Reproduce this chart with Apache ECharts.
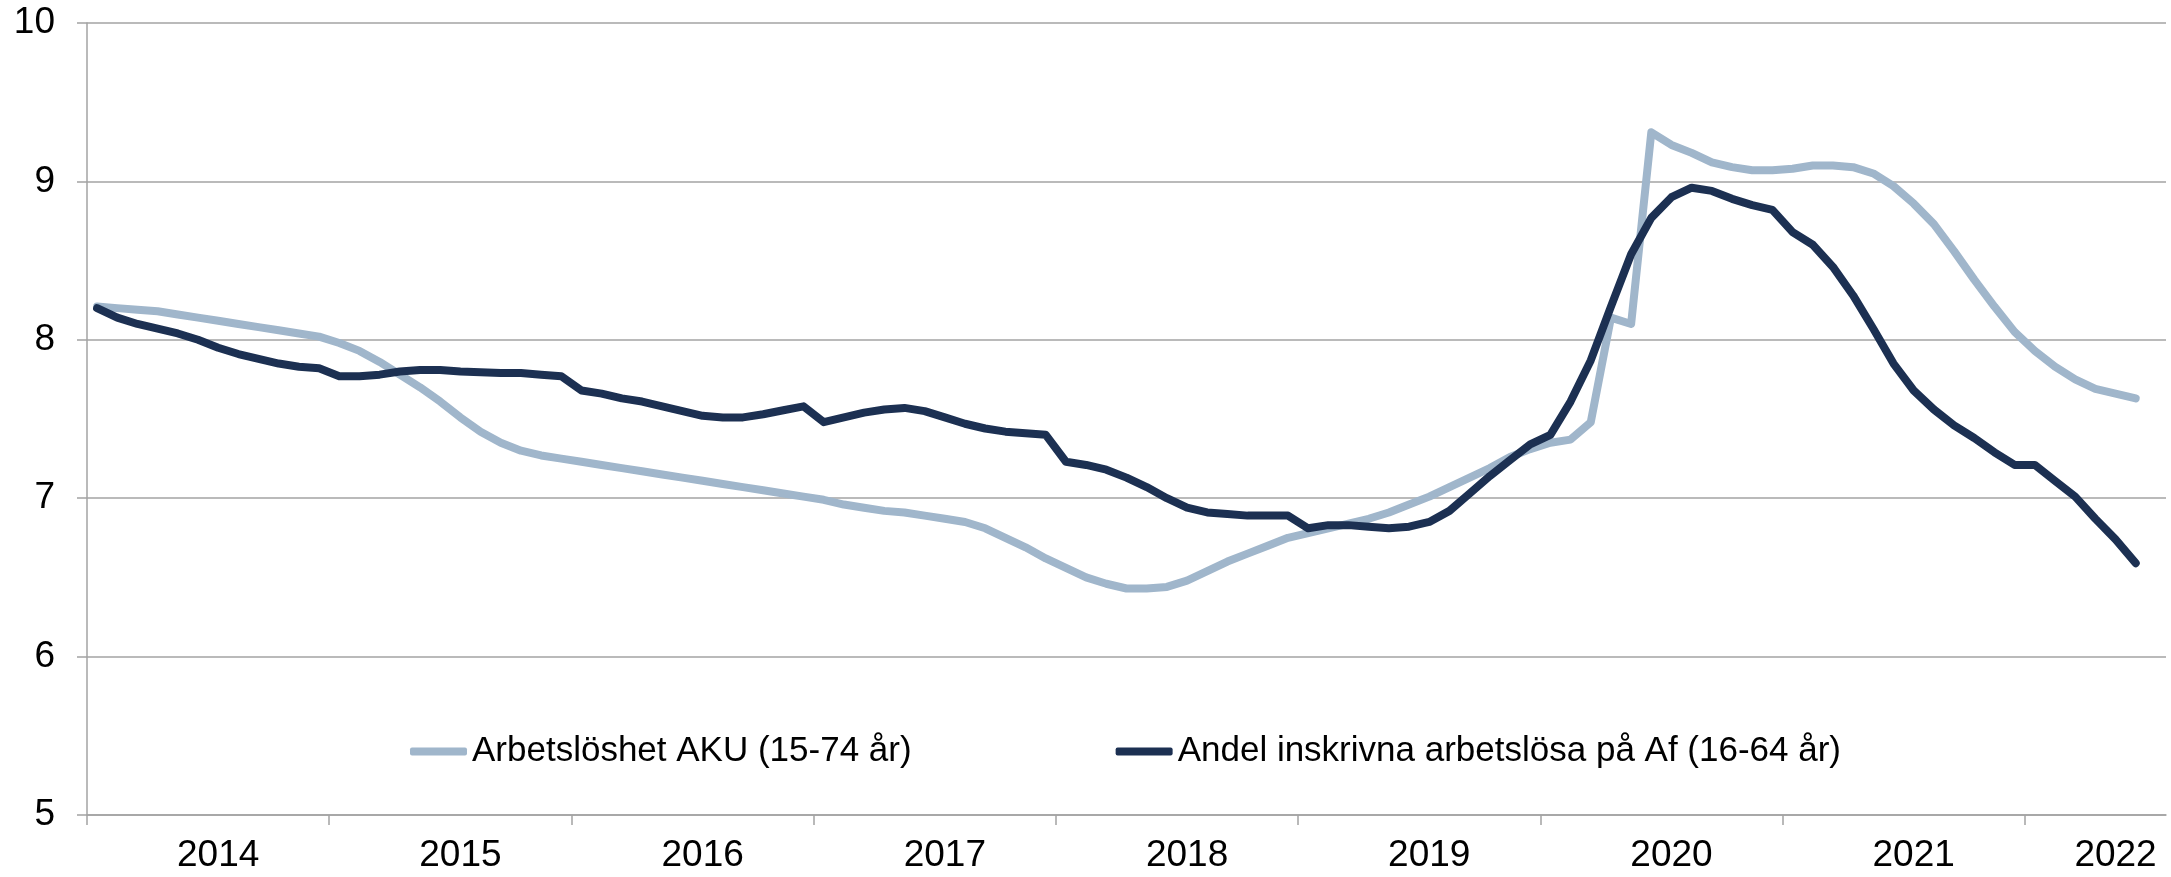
<!DOCTYPE html>
<html>
<head>
<meta charset="utf-8">
<title>Arbetslöshet</title>
<script src="https://cdn.jsdelivr.net/npm/echarts@6/dist/echarts.min.js"></script>
<style>
  html, body { margin: 0; padding: 0; background: #fff; }
  #chart { width: 2171px; height: 877px; }
</style>
</head>
<body>
<div id="chart"></div>
<script>
// years on the x axis, each split in months (Jan 2014 - Jul 2022)
const years = ['2014', '2015', '2016', '2017', '2018', '2019', '2020', '2021', '2022'];
const monthsInLastYear = 7;

// Arbetslöshet AKU (15-74 år), monthly, Jan 2014 - Jun 2022
const aku = [
  8.21, 8.20, 8.19, 8.18, 8.16, 8.14, 8.12, 8.10, 8.08, 8.06, 8.04, 8.02,
  7.98, 7.93, 7.86, 7.78, 7.70, 7.61, 7.51, 7.42, 7.35, 7.30, 7.27, 7.25,
  7.23, 7.21, 7.19, 7.17, 7.15, 7.13, 7.11, 7.09, 7.07, 7.05, 7.03, 7.01,
  6.99, 6.96, 6.94, 6.92, 6.91, 6.89, 6.87, 6.85, 6.81, 6.75, 6.69, 6.62,
  6.56, 6.50, 6.46, 6.43, 6.43, 6.44, 6.48, 6.54, 6.60, 6.65, 6.70, 6.75,
  6.78, 6.81, 6.84, 6.87, 6.91, 6.96, 7.01, 7.07, 7.13, 7.19, 7.26, 7.31,
  7.35, 7.37, 7.48, 8.14, 8.10, 9.31, 9.23, 9.18, 9.12, 9.09, 9.07, 9.07,
  9.08, 9.10, 9.10, 9.09, 9.05, 8.97, 8.86, 8.73, 8.56, 8.38, 8.21, 8.05,
  7.93, 7.83, 7.75, 7.69, 7.66, 7.63
];

// Andel inskrivna arbetslösa på Af (16-64 år), monthly, Jan 2014 - Jun 2022
const af = [
  8.20, 8.14, 8.10, 8.07, 8.04, 8.00, 7.95, 7.91, 7.88, 7.85, 7.83, 7.82,
  7.77, 7.77, 7.78, 7.80, 7.81, 7.81, 7.80, 7.795, 7.79, 7.79, 7.78, 7.77,
  7.68, 7.66, 7.63, 7.61, 7.58, 7.55, 7.52, 7.51, 7.51, 7.53, 7.555, 7.58,
  7.48, 7.51, 7.54, 7.56, 7.57, 7.55, 7.51, 7.47, 7.44, 7.42, 7.41, 7.40,
  7.23, 7.21, 7.18, 7.13, 7.07, 7.00, 6.94, 6.91, 6.90, 6.89, 6.89, 6.89,
  6.81, 6.83, 6.83, 6.82, 6.81, 6.82, 6.85, 6.92, 7.03, 7.14, 7.24, 7.34,
  7.40, 7.61, 7.87, 8.21, 8.54, 8.77, 8.90, 8.96, 8.94, 8.89, 8.85, 8.82,
  8.68, 8.60, 8.46, 8.28, 8.07, 7.85, 7.68, 7.56, 7.46, 7.38, 7.29, 7.21,
  7.21, 7.11, 7.01, 6.87, 6.74, 6.59
];

const seriesNames = ['Arbetslöshet AKU (15-74 år)', 'Andel inskrivna arbetslösa på Af (16-64 år)'];

// month categories
var months = [];
for (var y = 0; y < years.length; y++) {
  var n = (y === years.length - 1) ? monthsInLastYear : 12;
  for (var m = 1; m <= n; m++) {
    months.push(years[y] + '-' + (m < 10 ? '0' + m : m));
  }
}
// index that carries the year label (middle of each year, last year placed like the original)
var labelIdx = {};
for (var y = 0; y < years.length - 1; y++) labelIdx[y * 12 + 6] = true;
labelIdx[(years.length - 1) * 12 + 4] = true;
// year boundaries for the tick marks (no tick at the far right end)
var yearStarts = [];
for (var y = 0; y < years.length; y++) yearStarts.push(y * 12);

const font = 'Liberation Sans, Arial, sans-serif';
const gridColor = '#a3a3a3';

const option = {
  animation: false,
  backgroundColor: '#fff',
  textStyle: { fontFamily: font },
  color: ['#a0b6cb', '#1c3052'],
  grid: {
    left: 87,
    right: 5,
    top: 23,
    bottom: 62
  },
  legend: {
    data: seriesNames,
    left: 405,
    top: 729,
    icon: 'roundRect',
    itemWidth: 57,
    itemHeight: 8,
    itemGap: 204,
    textStyle: { fontSize: 35, color: '#000', fontFamily: font }
  },
  xAxis: [
    {
      type: 'category',
      data: months,
      boundaryGap: true,
      axisLine: { lineStyle: { color: gridColor, width: 1.5 } },
      axisTick: { show: false },
      axisLabel: {
        interval: function (i) { return !!labelIdx[i]; },
        formatter: function (v) { return v.slice(0, 4); },
        fontSize: 37,
        color: '#000',
        margin: 22,
        fontFamily: font
      },
      splitLine: { show: false }
    },
    {
      // only used for the year tick marks
      type: 'value',
      position: 'bottom',
      min: 0,
      max: months.length,
      interval: 12,
      axisLine: { show: false },
      axisLabel: { show: false },
      splitLine: { show: false },
      axisTick: {
        show: true,
        length: 10,
        customValues: yearStarts,
        lineStyle: { color: gridColor, width: 1.5 }
      }
    }
  ],
  yAxis: {
    type: 'value',
    min: 5,
    max: 10,
    interval: 1,
    axisLine: { show: true, lineStyle: { color: gridColor, width: 1.5 } },
    axisTick: { show: true, length: 10, lineStyle: { color: gridColor, width: 1.5 } },
    axisLabel: { fontSize: 37, color: '#000', margin: 32, fontFamily: font },
    splitLine: { lineStyle: { color: gridColor, width: 1.5 } }
  },
  series: [
    {
      name: seriesNames[0],
      type: 'line',
      data: aku,
      showSymbol: false,
      symbol: 'none',
      lineStyle: { width: 8, cap: 'round', join: 'round' }
    },
    {
      name: seriesNames[1],
      type: 'line',
      data: af,
      showSymbol: false,
      symbol: 'none',
      lineStyle: { width: 8, cap: 'round', join: 'round' }
    }
  ]
};

var myChart = echarts.init(document.getElementById('chart'));
myChart.setOption(option);
</script>
</body>
</html>
